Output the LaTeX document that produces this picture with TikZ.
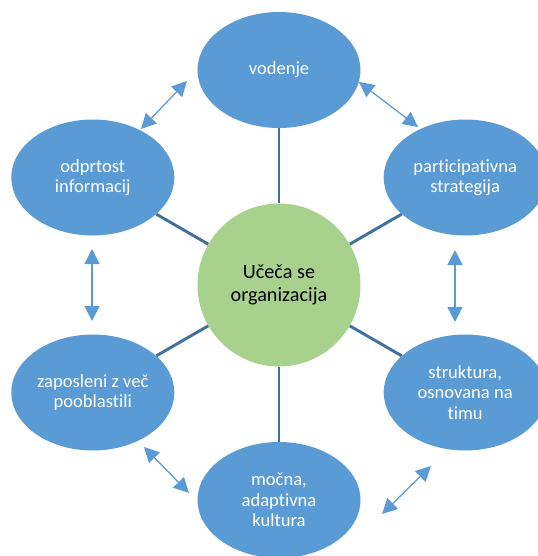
\documentclass[tikz,border=0pt]{standalone}
\usepackage{fontspec}
\setmainfont{Carlito}[Ligatures=NoCommon]
\usepackage{tikz}
\usetikzlibrary{arrows.meta,shapes.geometric}

\definecolor{ringblue}{HTML}{5B9BD5}
\definecolor{tieblue}{HTML}{41719C}
\definecolor{hubgreen}{HTML}{A9D18E}

\begin{document}
\begin{tikzpicture}[
    hub/.style={circle, fill=hubgreen, minimum size=4.075cm, inner sep=0pt, align=center,
      font=\fontsize{14.4pt}{16.4pt}\selectfont},
    petal/.style={ellipse, fill=ringblue, text=white, minimum width=4.075cm, minimum height=2.9cm,
      inner sep=0pt, align=center, font=\fontsize{13.2pt}{14.4pt}\selectfont},
    tie/.style={draw=tieblue, line width=2.1pt},
    link/.style={draw=ringblue, line width=0.9pt, {Triangle[length=0.375cm, width=0.375cm]}-{Triangle[length=0.375cm, width=0.375cm]}}
  ]
  \useasboundingbox (-6.975,-6.775) rectangle (6.475,7.125);

  \node[hub] (org) at (0,0) {Učeča se\\organizacija};
  \node[petal] (vod) at (90:5.375) {vodenje};
  \node[petal] (par) at (30:5.375) {participativna\\strategija};
  \node[petal] (str) at (-30:5.375) {struktura,\\osnovana na\\timu};
  \node[petal] (kul) at (-90:5.375) {močna,\\adaptivna\\kultura};
  \node[petal] (zap) at (-150:5.375) {zaposleni z več\\pooblastili};
  \node[petal] (odp) at (150:5.375) {odprtost\\informacij};

  % spokes from the hub
  \foreach \p in {vod,par,str,kul,zap,odp}
    \draw[tie] (org) -- (\p);

  % ends of the arrows around the ring
  \coordinate (vodL) at (-2.3,5.1);
  \coordinate (odpT) at (-3.45,3.9);
  \coordinate (vodR) at (2.0,5.075);
  \coordinate (parT) at (3.475,3.95);
  \coordinate (odpB) at (-4.675,0.9);
  \coordinate (zapT) at (-4.675,-0.9);
  \coordinate (parB) at (4.4,0.875);
  \coordinate (strT) at (4.4,-0.925);
  \coordinate (zapB) at (-3.375,-4.05);
  \coordinate (kulL) at (-2.25,-5.2);
  \coordinate (strB) at (3.8,-4.525);
  \coordinate (kulR) at (2.575,-5.725);

  \draw[link] (vodL) -- (odpT);
  \draw[link] (vodR) -- (parT);
  \draw[link] (odpB) -- (zapT);
  \draw[link] (parB) -- (strT);
  \draw[link] (zapB) -- (kulL);
  \draw[link] (strB) -- (kulR);
\end{tikzpicture}
\end{document}
